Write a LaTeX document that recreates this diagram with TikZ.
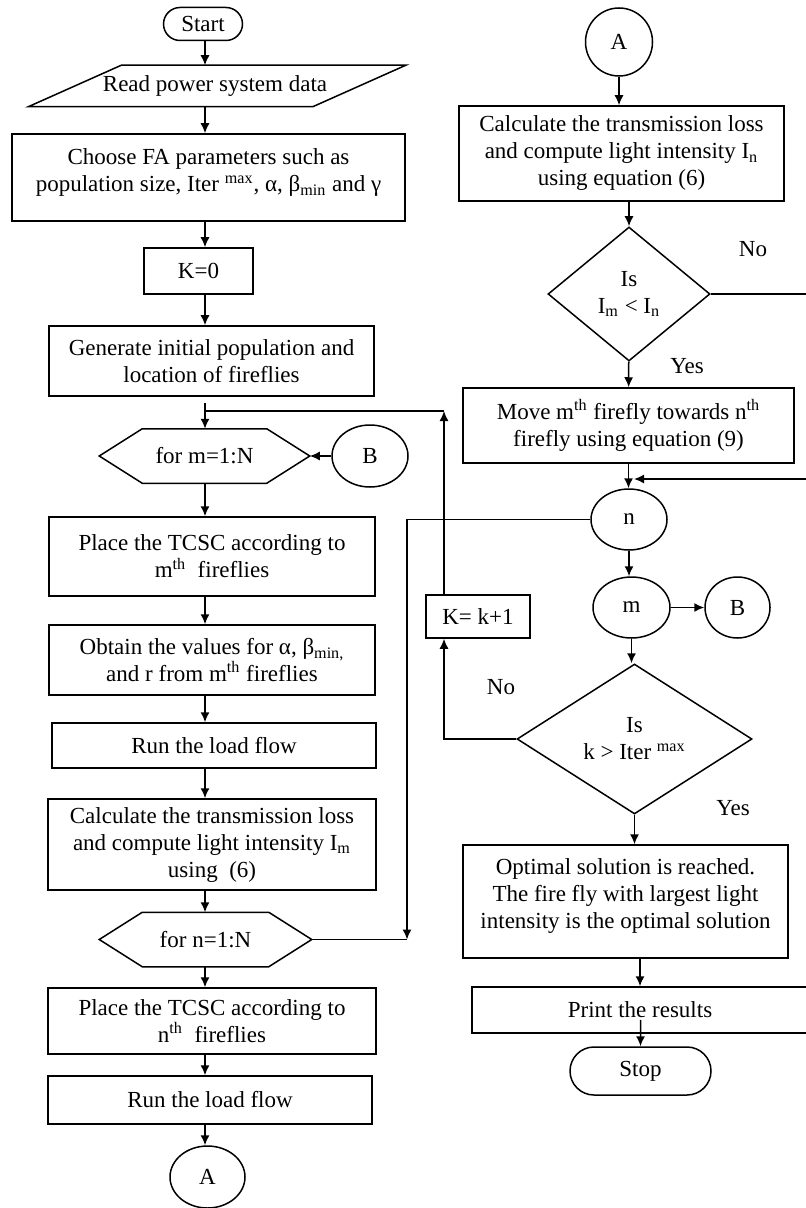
\documentclass[tikz,border=0pt]{standalone}
\usepackage{fontspec}
\setmainfont{Liberation Serif}
\usetikzlibrary{arrows.meta,shapes.geometric,shapes.misc}
\tikzset{
  block/.style={draw, rectangle, align=center, inner sep=1pt},
  term/.style={draw, rounded rectangle, inner sep=1pt},
  conn/.style={draw, ellipse, inner sep=0pt},
  decide/.style={draw, diamond, align=center, inner sep=0pt},
  io/.style={rectangle, inner sep=1pt},
  loopbox/.style={align=center, inner sep=0pt},
  lbl/.style={inner sep=0pt}
}
\begin{document}
\begin{tikzpicture}[x=0.5pt, y=-0.5pt, line width=0.75pt,
  >={Latex[length=5pt,width=4.5pt]}, font=\fontsize{11.5}{13.5}\selectfont]
	\useasboundingbox (0,0) rectangle (806,1208);
	\clip (0,0) rectangle (806,1208);

	% left column
	\node [term, minimum width=41.5pt, minimum height=16.5pt] (Start) at (203,24) {Start};
	\node [io, minimum width=141.5pt, minimum height=20pt] (Read) at (215,86) {Read power system data};
	\node [block, minimum width=196.5pt, minimum height=43.5pt] (Choose) at (208.5,177.5)
		{Choose FA parameters such as\\population size, Iter \textsuperscript{max}, α, β\textsubscript{min} and γ\\[-6.5pt]\mbox{}};
	\node [block, minimum width=54.5pt, minimum height=23pt] (KZero) at (198.5,271) {K=0};
	\node [block, minimum width=162.5pt, minimum height=35pt] (Generate) at (211.5,361)
		{Generate initial population and\\location of fireflies};
	\node [loopbox, minimum width=104.5pt, minimum height=26.5pt] (ForM) at (204.5,456) {for m=1:N};
	\node [conn, minimum width=38pt, minimum height=31pt] (BLeft) at (370,456) {B};
	\node [block, minimum width=163pt, minimum height=39.5pt] (PlaceM) at (212,556.5)
		{Place the TCSC according to\\m\textsuperscript{th}\ \ fireflies};
	\node [block, minimum width=163pt, minimum height=35pt] (Obtain) at (212,660)
		{Obtain the values for α, β\textsubscript{min,}\\and r from m\textsuperscript{th} fireflies};
	\node [block, minimum width=162pt, minimum height=22.5pt] (RunM) at (214,745.5) {Run the load flow};
	\node [block, minimum width=164pt, minimum height=45.5pt] (CalcM) at (212,844.5)
		{Calculate the transmission loss\\and compute light intensity I\textsubscript{m}\\using\ \ (6)};
	\node [loopbox, minimum width=105.5pt, minimum height=26.5pt] (ForN) at (205.5,939.5) {for n=1:N};
	\node [block, minimum width=164pt, minimum height=33pt] (PlaceN) at (212,1021)
		{Place the TCSC according to\\n\textsuperscript{th}\ \ fireflies};
	\node [block, minimum width=162pt, minimum height=24pt] (RunN) at (210,1100) {Run the load flow};
	\node [conn, minimum width=37.5pt, minimum height=31pt] (ALeft) at (207.5,1177) {A};

	% right column
	\node [conn, minimum width=33.5pt, minimum height=34pt] (ARight) at (619,42) {A};
	\node [block, minimum width=162.5pt, minimum height=47.5pt] (CalcN) at (621.5,153.5)
		{Calculate the transmission loss\\and compute light intensity I\textsubscript{n}\\using equation (6)};
	\node [decide, minimum width=81pt, minimum height=67pt] (Brighter) at (629,294)
		{Is\\I\textsubscript{m} < I\textsubscript{n}};
	\node [block, minimum width=165.5pt, minimum height=37.5pt] (Move) at (628.5,425.5)
		{Move m\textsuperscript{th} firefly towards n\textsuperscript{th}\\firefly using equation (9)};
	\node [conn, minimum width=38pt, minimum height=30.5pt] (NEnd) at (629,519.5) {n};
	\node [conn, minimum width=38.5pt, minimum height=30.5pt] (MEnd) at (631.5,607.5) {m};
	\node [conn, minimum width=32.5pt, minimum height=30.5pt] (BRight) at (737.5,607.5) {B};
	\node [decide, minimum width=117.5pt, minimum height=75pt] (MaxIter) at (634.5,739)
		{Is\\k > Iter \textsuperscript{max}};
	\node [block, minimum width=52pt, minimum height=21.5pt] (KNext) at (478,616.5) {K= k+1};
	\node [block, minimum width=162.5pt, minimum height=56.5pt] (Optimal) at (625.5,901.5)
		{Optimal solution is reached.\\The fire fly with largest light\\intensity is the optimal solution\\[-5.5pt]\mbox{}};
	\node [block, minimum width=168pt, minimum height=23pt] (Print) at (640,1010) {Print the results};
	\node [term, minimum width=72.5pt, minimum height=24pt] (Stop) at (640.5,1071) {Stop};

	\node [lbl] (NoA) at (753,249) {No};
	\node [lbl] (YesA) at (687,366) {Yes};
	\node [lbl] (NoB) at (501,687) {No};
	\node [lbl] (YesB) at (733,808) {Yes};

	% parallelogram of the input box, hexagons of the loop boxes
	\draw ([xshift=24.25pt]Read.north west) -- ([xshift=24.25pt]Read.north east)
		-- ([xshift=-22.25pt]Read.south east) -- ([xshift=-22.25pt]Read.south west) -- cycle;
	\foreach \h in {ForM,ForN}
		\draw (\h.west) -- ([xshift=21.5pt]\h.north west) -- ([xshift=-21.5pt]\h.north east)
			-- (\h.east) -- ([xshift=-21.5pt]\h.south east) -- ([xshift=21.5pt]\h.south west) -- cycle;

	\coordinate (ColL) at (205,0);
	\coordinate (UpK) at (444,411);
	\coordinate (DownN) at (407,939.5);
	\coordinate (Back) at (634,479);
	\coordinate (OffR) at (840,0);

	\draw [->] (Start.south -| ColL) -- (Read.north -| ColL);
	\draw [->] (Read.south -| ColL) -- (Choose.north -| ColL);
	\draw [->] (Choose.south -| ColL) -- (KZero.north -| ColL);
	\draw [->] (KZero.south -| ColL) -- (Generate.north -| ColL);
	\draw [->, shorten <=3pt] (Generate.south -| ColL) -- (ForM.north -| ColL);
	\draw [->] (BLeft) -- (ForM.east);
	\draw [->] (ForM.south -| ColL) -- (PlaceM.north -| ColL);
	\draw [->] (PlaceM.south -| ColL) -- (Obtain.north -| ColL);
	\draw [->] (Obtain.south -| ColL) -- (RunM.north -| ColL);
	\draw [->] (RunM.south -| ColL) -- (CalcM.north -| ColL);
	\draw [->] (CalcM.south -| ColL) -- (ForN.north -| ColL);
	\draw [->] (ForN.south -| ColL) -- (PlaceN.north -| ColL);
	\draw [->] (PlaceN.south -| ColL) -- (RunN.north -| ColL);
	\draw [->] (RunN.south -| ColL) -- (ALeft.north -| ColL);

	\draw [->] (ARight) -- (ARight |- CalcN.north);
	\draw [->] (Brighter |- CalcN.south) -- (Brighter);
	\draw [->] (Brighter) -- (Move);
	\draw [->] (Brighter.east) -- (Brighter.east -| OffR) |- (Back);
	\draw [->] (Move) -- (Move |- NEnd.north);
	\draw [->] (NEnd.west) -| (DownN);
	\draw (ForN.east) -- (DownN);
	\draw [->] (NEnd) -- (NEnd |- MEnd.north);
	\draw [->] (MEnd) -- (BRight);
	\draw [->] (MEnd) -- (MEnd |- MaxIter.north);
	\draw [->] (MaxIter.west) -| (KNext.south -| UpK);
	\draw [->] (KNext.north -| UpK) -- (UpK);
	\draw (UpK) -- (UpK -| ColL);
	\draw [->] (MaxIter) -- (MaxIter |- Optimal.north);
	\draw [->] (Print |- Optimal.south) -- (Print.north);
	\draw [->] ([yshift=7pt]Print.south -| Stop) -- (Stop);
\end{tikzpicture}
\end{document}
